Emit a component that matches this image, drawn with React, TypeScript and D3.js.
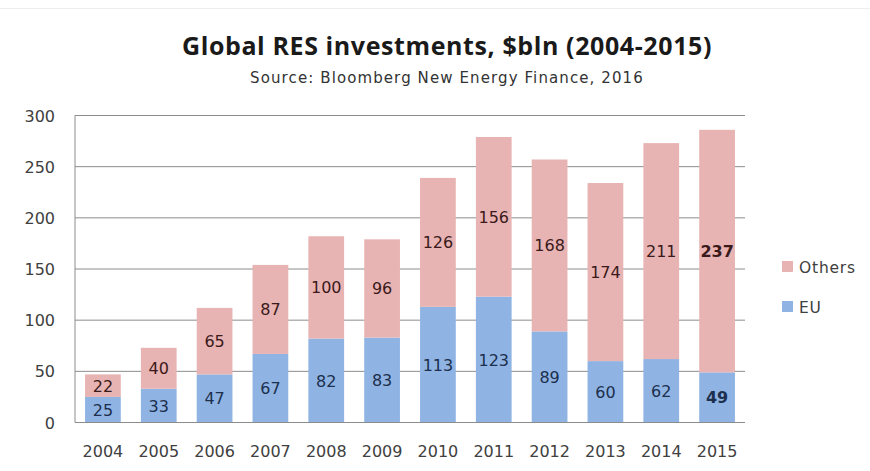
import React from "react";
import * as d3 from "d3";

const years = ["2004","2005","2006","2007","2008","2009","2010","2011","2012","2013","2014","2015"];
const euValues = [25,33,47,67,82,83,113,123,89,60,62,49];
const othersValues = [22,40,65,87,100,96,126,156,168,174,211,237];
const yTicks = [0,50,100,150,200,250,300];
const seriesNames = ["EU","Others"];

const W = 870, H = 471;
const TFONT = "Open Sans, Lato, sans-serif";
const FONT = "DejaVu Sans, Verdana, sans-serif";

export default function App() {
  const left = 75, right = 745, top = 115.5, bottom = 422.5;
  const x = d3.scaleBand().domain(years).range([left, right]).paddingInner(0.36).paddingOuter(0.18);
  const y = d3.scaleLinear().domain([0, 300]).range([bottom, top]);
  const rows = years.map((yr, i) => ({ year: yr, EU: euValues[i], Others: othersValues[i] }));
  const stack = d3.stack<any>().keys(seriesNames)(rows);
  const colors: Record<string, string> = { EU: "#8fb4e3", Others: "#e8b3b3" };
  const labelColors: Record<string, string> = { EU: "#1c2f4d", Others: "#3a1a1a" };

  return (
    <div style={{ position: "fixed", left: 0, top: 0 }}>
      <svg width={W} height={H} style={{ display: "block", background: "#fff" }}>
        <line x1={0} x2={W} y1={8.5} y2={8.5} stroke="#eeeeee" />
        <text x={447} y={55} textAnchor="middle" fontFamily={TFONT} fontWeight="bold" fontSize={25} letterSpacing={0.6} fill="#1a1a1a">
          Global RES investments, $bln (2004-2015)
        </text>
        <text x={447} y={83} textAnchor="middle" fontFamily={FONT} fontSize={15} letterSpacing={1.1} fill="#333">
          Source: Bloomberg New Energy Finance, 2016
        </text>
        {yTicks.map(t => (
          <g key={t}>
            {t > 0 && <line x1={left} x2={right} y1={y(t)} y2={y(t)} stroke="#8c8c8c" strokeWidth={1} />}
            <text x={55} y={y(t) + 6} textAnchor="end" fontFamily={FONT} fontSize={16} fill="#404040">{t}</text>
          </g>
        ))}
        {stack.map(s => (
          <g key={s.key}>
            {s.map((d, i) => (
              <rect key={i} x={x(years[i])} width={x.bandwidth()} y={y(d[1])} height={y(d[0]) - y(d[1])} fill={colors[s.key]} />
            ))}
          </g>
        ))}
        <line x1={left} x2={left} y1={top} y2={bottom} stroke="#8c8c8c" />
        <line x1={left} x2={right} y1={bottom} y2={bottom} stroke="#8c8c8c" />
        {stack.map(s => (
          <g key={"l" + s.key}>
            {s.map((d, i) => (
              <text key={i} x={(x(years[i]) as number) + x.bandwidth() / 2} y={y((d[0] + d[1]) / 2) + 6}
                textAnchor="middle" fontFamily={FONT} fontSize={16}
                fontWeight={years[i] === "2015" ? "bold" : "normal"} fill={labelColors[s.key]}>
                {d[1] - d[0]}
              </text>
            ))}
          </g>
        ))}
        {years.map(yr => (
          <text key={yr} x={(x(yr) as number) + x.bandwidth() / 2} y={457} textAnchor="middle"
            fontFamily={FONT} fontSize={16} fill="#404040">{yr}</text>
        ))}
        {["Others", "EU"].map((k, i) => (
          <g key={k} transform={`translate(782, ${267 + i * 40})`}>
            <rect x={0} y={-6} width={11} height={11} fill={colors[k]} />
            <text x={17} y={6} fontFamily={FONT} fontSize={15.5} letterSpacing={0.8} fill="#404040">{k}</text>
          </g>
        ))}
      </svg>
    </div>
  );
}
